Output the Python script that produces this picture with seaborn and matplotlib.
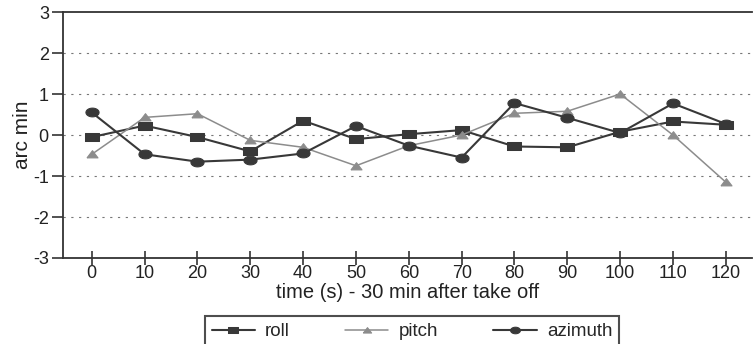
import matplotlib
matplotlib.use("Agg")
import matplotlib.pyplot as plt
import seaborn as sns
import pandas as pd
import numpy as np

time_s = [0, 10, 20, 30, 40, 50, 60, 70, 80, 90, 100, 110, 120]
roll = [-0.05, 0.23, -0.05, -0.40, 0.35, -0.10, 0.02, 0.12, -0.28, -0.30, 0.08, 0.33, 0.25]
pitch = [-0.47, 0.43, 0.52, -0.13, -0.30, -0.75, -0.26, 0.00, 0.53, 0.58, 1.00, 0.00, -1.15]
azimuth = [0.55, -0.47, -0.65, -0.60, -0.45, 0.22, -0.26, -0.55, 0.78, 0.42, 0.05, 0.77, 0.27]
y_ticks = [-3, -2, -1, 0, 1, 2, 3]

sns.set_theme(style="white")
plt.rcParams['font.family'] = ['Liberation Sans', 'DejaVu Sans']
plt.rcParams['axes.unicode_minus'] = False

fig = plt.figure(figsize=(7.56, 3.44), dpi=100)
ax = fig.add_axes([0.083, 0.25, 0.912, 0.715])

df = pd.DataFrame({"time": time_s, "roll": roll, "pitch": pitch, "azimuth": azimuth})

rect_marker = [(-1.5, -1), (1.5, -1), (1.5, 1), (-1.5, 1), (-1.5, -1)]
th = np.linspace(0, 2 * np.pi, 40)
ellipse_marker = list(zip(1.5 * np.cos(th), np.sin(th)))
tri_marker = [(-1.3, -0.8), (1.3, -0.8), (0, 0.9), (-1.3, -0.8)]

styles = {
    "roll": dict(color="#383838", marker=rect_marker, markersize=9.5, lw=1.5),
    "pitch": dict(color="#8c8c8c", marker=tri_marker, markersize=8, lw=1.1),
    "azimuth": dict(color="#383838", marker=ellipse_marker, markersize=9.5, lw=1.5),
}
for name in ["roll", "pitch", "azimuth"]:
    st = styles[name]
    sns.lineplot(data=df, x="time", y=name, ax=ax, color=st["color"], marker=st["marker"],
                 markersize=st["markersize"], linewidth=st["lw"], markeredgecolor=st["color"],
                 label=name)

ax.set_ylim(-3, 3)
ax.set_xlim(-5.5, 125)
ax.set_yticks(y_ticks)
ax.set_xticks(time_s)
for yv in [-2, -1, 0, 1, 2]:
    ax.axhline(yv, color="#777777", lw=0.8, ls=(0, (2, 5)), zorder=0)

for s in ["left", "bottom", "top"]:
    ax.spines[s].set_color("#333333")
    ax.spines[s].set_linewidth(1.3)
ax.spines["right"].set_visible(False)
ax.tick_params(axis="y", direction="out", length=8, width=1.2, color="#333333", labelsize=13, pad=2, left=True)
ax.tick_params(axis="x", direction="inout", length=10, width=1.2, color="#333333", labelsize=13, pad=0, bottom=True)
ax.set_xlabel("time (s) - 30 min after take off", fontsize=14.5, labelpad=1, color="#222222")
ax.set_ylabel("arc min", fontsize=15, labelpad=1, color="#222222")
for lab in ax.get_xticklabels() + ax.get_yticklabels():
    lab.set_color("#222222")

ax.get_legend().remove()
handles, labels = ax.get_legend_handles_labels()
leg = fig.legend(handles, labels, loc="lower center", bbox_to_anchor=(0.545, -0.035), ncol=3,
                 frameon=True, fancybox=False, edgecolor="#222222", fontsize=13.5,
                 handlelength=2.3, columnspacing=2.95, borderpad=0.35, handletextpad=0.55,
                 markerscale=0.75)
leg.get_frame().set_linewidth(1.5)

fig.savefig("out.png", dpi=100)
